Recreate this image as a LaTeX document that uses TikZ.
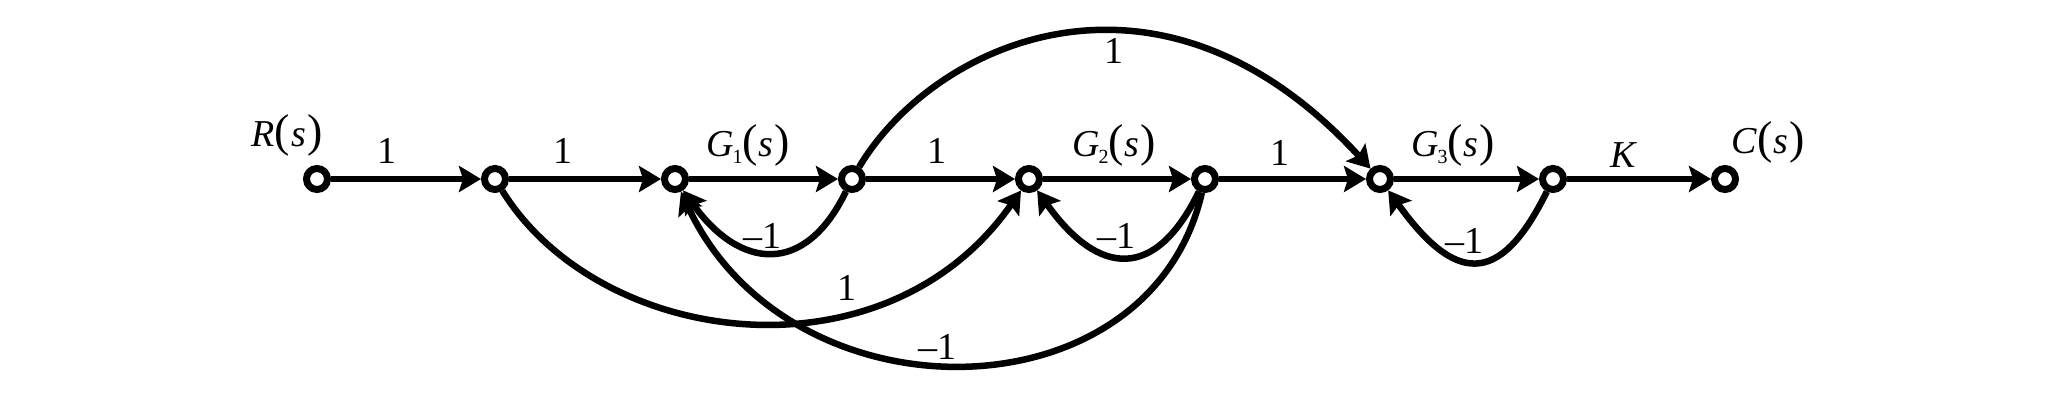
\documentclass[tikz,border=0pt]{standalone}
\usepackage{fontspec}
\setmainfont{Liberation Serif}
\usetikzlibrary{arrows.meta}
\newcommand{\Pa}[1]{{\fontsize{46}{46}\selectfont(}\kern1pt#1\kern1pt{\fontsize{46}{46}\selectfont)}}
\newcommand{\Gsub}[1]{\textit{G}\kern-1pt\raisebox{-7pt}{\fontsize{20}{20}\selectfont #1}}
\begin{document}
\begin{tikzpicture}[x=1pt,y=-1pt,
  sig/.style={circle,draw,fill=white,line width=7pt,minimum size=21pt,inner sep=0pt},
  edge/.style={line width=6.5pt,-{Stealth[length=22pt,width=26pt,inset=4pt]}},
  lbl/.style={font=\fontsize{38}{42}\selectfont,inner sep=0pt}]
\useasboundingbox[fill=white] (0,0) rectangle (2063,417);
% signal nodes
\node[sig] (n1) at (317,179) {};
\node[sig] (n2) at (495,179) {};
\node[sig] (n3) at (675,179) {};
\node[sig] (n4) at (852,179) {};
\node[sig] (n5) at (1029,179) {};
\node[sig] (n6) at (1205,179) {};
\node[sig] (n7) at (1380,179) {};
\node[sig] (n8) at (1553,179) {};
\node[sig] (n9) at (1725,179) {};
% forward branches
\draw[edge] (n1) -- (n2);
\draw[edge] (n2) -- (n3);
\draw[edge] (n3) -- (n4);
\draw[edge] (n4) -- (n5);
\draw[edge] (n5) -- (n6);
\draw[edge] (n6) -- (n7);
\draw[edge] (n7) -- (n8);
\draw[edge] (n8) -- (n9);
% top arc
\draw[edge] (n4) .. controls (933,43) and (1159,-62) .. (n7);
% small feedback loops
\draw[edge] (n4) .. controls (805,276) and (740,270) .. (n3);
\draw[edge] (n6) .. controls (1155,282) and (1098,276) .. (n5);
\draw[edge] (n8) .. controls (1499,289) and (1454,282) .. (n7);
% long lower branches
\draw[edge] (n2) .. controls (600,348) and (885,385) .. (n5);
\draw[edge] (n6) .. controls (1150,420) and (790,425) .. (n3);
% labels
\node[lbl] (lR) at (287,135) {\textit{R}\Pa{\textit{s}}};
\node[lbl] (l12) at (387,151) {1};
\node[lbl] (l23) at (563,151) {1};
\node[lbl] (lG1) at (748,145) {\Gsub{1}\Pa{\textit{s}}};
\node[lbl] (l45) at (937,151) {1};
\node[lbl] (lG2) at (1114,145) {\Gsub{2}\Pa{\textit{s}}};
\node[lbl] (l67) at (1280,153) {1};
\node[lbl] (lG3) at (1453,145) {\Gsub{3}\Pa{\textit{s}}};
\node[lbl] (lK) at (1624,155) {\textit{K}};
\node[lbl] (lC) at (1768,142) {\textit{C}\Pa{\textit{s}}};
\node[lbl] (ltop) at (1114,51) {1};
\node[lbl] (lf1) at (762,236) {--1};
\node[lbl] (lf2) at (1116,236) {--1};
\node[lbl] (lf3) at (1464,241) {--1};
\node[lbl] (lff) at (847,288) {1};
\node[lbl] (lfb) at (937,347) {--1};
\end{tikzpicture}
\end{document}
